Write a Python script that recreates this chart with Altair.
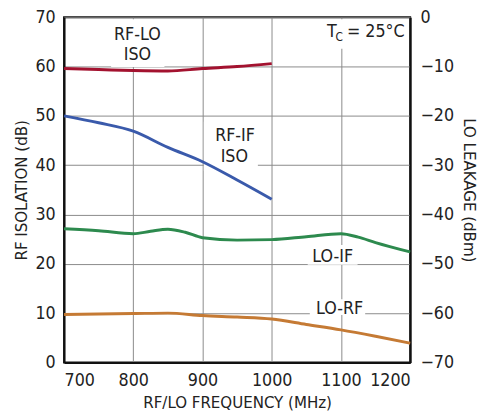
import altair as alt
import pandas as pd

FONT = "Liberation Sans Narrow, DejaVu Sans Condensed, Roboto, sans-serif"

# --- data ---
rf_freq = [700, 750, 800, 850, 900, 950, 1000]
rf_lo_iso = [59.6, 59.4, 59.2, 59.1, 59.6, 60.0, 60.6]
rf_if_iso = [50.0, 48.6, 46.9, 43.6, 40.7, 37.0, 33.1]

lo_if_freq = [700, 750, 800, 825, 850, 875, 900, 950, 1000, 1050, 1100, 1125, 1150, 1200]
lo_if_leak = [-42.9, -43.3, -43.9, -43.4, -43.0, -43.6, -44.7, -45.2, -45.1, -44.5, -43.9, -44.6, -45.7, -47.6]

lo_rf_freq = [700, 750, 800, 850, 900, 950, 1000, 1050, 1100, 1150, 1200]
lo_rf_leak = [-60.3, -60.2, -60.1, -60.0, -60.5, -60.8, -61.2, -62.3, -63.4, -64.7, -66.1]

series_names = ["RF-LO", "RF-IF", "LO-IF", "LO-RF"]
series_colors = ["#a3122f", "#3a5aab", "#2d8a4e", "#c57a34"]

# annotation labels
label_text = ["RF-LO", "ISO", "RF-IF", "ISO", "LO-IF", "LO-RF"]
label_x = [806, 806, 947, 946, 1088, 1098]
label_y = [66.4, 62.3, 45.9, 41.6, 21.4, 10.8]

# T_C annotation pieces
tc_text = ["T", "C"]
tc_x = [1080, 1092]
tc_y = [67.0, 65.9]
tc_size = [18, 12]
tc_rest_text = ["= 25°C"]
tc_rest_x = [1192]
tc_rest_y = [67.0]

# white knock-out boxes behind labels
box_x = [768, 902, 1052, 1055, 1076]
box_x2 = [845, 980, 1124, 1135, 1196]
box_y = [59.9, 38.8, 19.8, 9.6, 63.6]
box_y2 = [69.6, 48.8, 23.8, 12.8, 69.6]

left_df = pd.DataFrame({
    "freq": rf_freq * 2,
    "val": rf_lo_iso + rf_if_iso,
    "series": ["RF-LO"] * len(rf_freq) + ["RF-IF"] * len(rf_freq),
})
right_df = pd.DataFrame({
    "freq": lo_if_freq + lo_rf_freq,
    "val": lo_if_leak + lo_rf_leak,
    "series": ["LO-IF"] * len(lo_if_freq) + ["LO-RF"] * len(lo_rf_freq),
})
label_df = pd.DataFrame({"text": label_text, "x": label_x, "y": label_y})
box_df = pd.DataFrame({"x": box_x, "x2": box_x2, "y": box_y, "y2": box_y2})
tc_df = pd.DataFrame({"text": tc_text, "x": tc_x, "y": tc_y, "size": tc_size})
tc_rest_df = pd.DataFrame({"text": tc_rest_text, "x": tc_rest_x, "y": tc_rest_y})

xscale = alt.Scale(domain=[700, 1200], nice=False, zero=False)
yl_scale = alt.Scale(domain=[0, 70], nice=False)
yr_scale = alt.Scale(domain=[-70, 0], nice=False)
color = alt.Color("series:N", scale=alt.Scale(domain=series_names, range=series_colors), legend=None)

x_axis = alt.Axis(values=[700, 800, 900, 1000, 1100, 1200], format="d", title="RF/LO FREQUENCY (MHz)",
                  grid=True, gridColor="#8a8a8a", gridWidth=1, domainColor="#111", domainWidth=2,
                  ticks=False, labelPadding=9, labelFontSize=18, titleFontSize=17,
                  titlePadding=6, labelFont=FONT, titleFont=FONT, labelColor="#222",
                  titleColor="#222", titleFontWeight="normal")
yl_axis = alt.Axis(values=list(range(0, 71, 10)), title="RF ISOLATION (dB)", grid=True,
                   gridColor="#8a8a8a", gridWidth=1, domainColor="#111", domainWidth=2,
                   ticks=False, labelPadding=9, labelFontSize=18, titleFontSize=17,
                   titlePadding=5, labelFont=FONT, titleFont=FONT, labelColor="#222",
                   titleColor="#222", titleFontWeight="normal")
yr_axis = alt.Axis(values=list(range(-70, 1, 10)), title="LO LEAKAGE (dBm)", orient="right",
                   grid=False, domainColor="#111", domainWidth=2, ticks=False,
                   labelPadding=10, labelFontSize=18, titleFontSize=17, titlePadding=6,
                   labelFont=FONT, titleFont=FONT, labelColor="#222", titleColor="#222",
                   titleFontWeight="normal")


def X(field):
    return alt.X(field, scale=xscale, axis=x_axis)


def YL(field):
    return alt.Y(field, scale=yl_scale, axis=yl_axis)


boxes = alt.Chart(box_df).mark_rect(color="white").encode(
    x=X("x:Q"), x2="x2:Q", y=YL("y:Q"), y2="y2:Q")

left_lines = alt.Chart(left_df).mark_line(strokeWidth=3, interpolate="monotone").encode(
    x=X("freq:Q"), y=YL("val:Q"), color=color, detail="series:N")

labels = alt.Chart(label_df).mark_text(font=FONT, fontSize=18, color="#222", baseline="middle",
                                       align="center").encode(
    x=X("x:Q"), y=YL("y:Q"), text="text:N")

tc = alt.Chart(tc_df).mark_text(font=FONT, color="#222", baseline="middle", align="left").encode(
    x=X("x:Q"), y=YL("y:Q"),
    text="text:N", size=alt.Size("size:Q", scale=None, legend=None))

tc_rest = alt.Chart(tc_rest_df).mark_text(font=FONT, color="#222", baseline="middle", align="right",
                                          fontSize=18).encode(
    x=X("x:Q"), y=YL("y:Q"), text="text:N")

left_group = alt.layer(boxes, labels, tc, tc_rest, left_lines)

right_lines = alt.Chart(right_df).mark_line(strokeWidth=3, interpolate="monotone").encode(
    x=X("freq:Q"),
    y=alt.Y("val:Q", scale=yr_scale, axis=yr_axis),
    color=color, detail="series:N")

chart = alt.layer(left_group, right_lines).resolve_scale(y="independent").properties(
    width=352, height=351,
    background="white",
    autosize=alt.AutoSizeParams(type="none"),
    padding={"left": 57, "top": 6, "right": 70, "bottom": 47},
).configure_view(stroke="#111", strokeWidth=2)

chart.save("out.html", embed_options={"renderer": "svg", "actions": False})
